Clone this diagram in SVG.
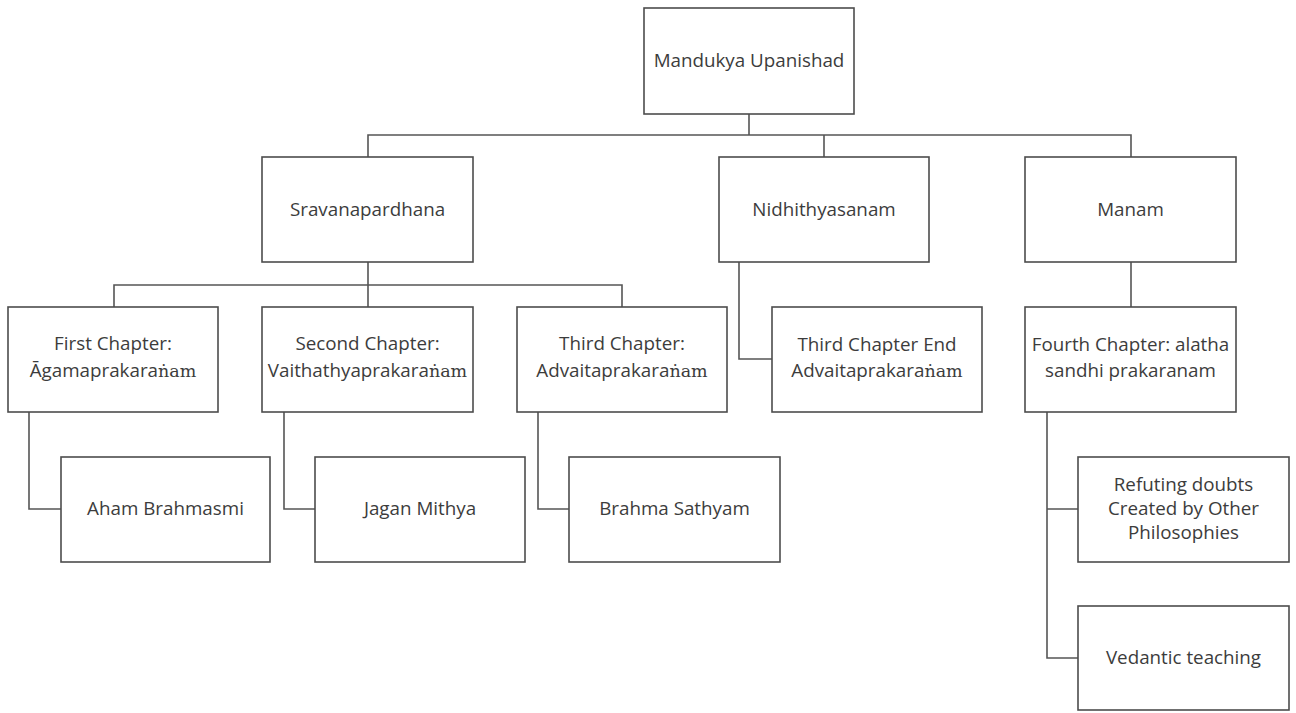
<svg xmlns="http://www.w3.org/2000/svg" width="1296" height="713" viewBox="0 0 1296 713">
<style>
.box{fill:#fff;stroke:#4d4d4d;stroke-width:1.6}
.c{fill:none;stroke:#555;stroke-width:1.6}
text{font-family:"Open Sans","Liberation Sans",sans-serif;font-size:18.8px;fill:#3c3c3c;text-anchor:middle}
.s{font-family:"DejaVu Serif","Liberation Serif",serif;font-size:17.5px}
</style>
<rect width="1296" height="713" fill="#fff"/>
<g id="connectors">
<path class="c" d="M749 114V135M368 157V135H1131V157M824 135V157"/>
<path class="c" d="M368 262V307M114 307V285H622V307"/>
<path class="c" d="M739 262V359H772"/>
<path class="c" d="M1131 262V307"/>
<path class="c" d="M29 412V509H61"/>
<path class="c" d="M284 412V509H315"/>
<path class="c" d="M538 412V509H569"/>
<path class="c" d="M1047 412V658H1078M1047 509H1078"/>
</g>
<g id="mandukya"><rect class="box" x="644" y="8" width="210" height="106"/><text x="749" y="67">Mandukya Upanishad</text></g>
<g id="sravana"><rect class="box" x="262" y="157" width="211" height="105"/><text x="367.5" y="216">Sravanapardhana</text></g>
<g id="nidhi"><rect class="box" x="719" y="157" width="210" height="105"/><text x="824" y="216">Nidhithyasanam</text></g>
<g id="manam"><rect class="box" x="1025" y="157" width="211" height="105"/><text x="1130.5" y="216">Manam</text></g>
<g id="first"><rect class="box" x="8" y="307" width="210" height="105"/><text x="113" y="350">First Chapter:</text><text x="113" y="377">Āgamaprakara<tspan class="s">ṅam</tspan></text></g>
<g id="second"><rect class="box" x="262" y="307" width="211" height="105"/><text x="367.5" y="350">Second Chapter:</text><text x="367.5" y="377">Vaithathyaprakara<tspan class="s">ṅam</tspan></text></g>
<g id="third"><rect class="box" x="517" y="307" width="210" height="105"/><text x="622" y="350">Third Chapter:</text><text x="622" y="377">Advaitaprakara<tspan class="s">ṅam</tspan></text></g>
<g id="thirdend"><rect class="box" x="772" y="307" width="210" height="105"/><text x="877" y="351">Third Chapter End</text><text x="877" y="377">Advaitaprakara<tspan class="s">ṅam</tspan></text></g>
<g id="fourth"><rect class="box" x="1025" y="307" width="211" height="105"/><text x="1130.5" y="351">Fourth Chapter: alatha</text><text x="1130.5" y="377">sandhi prakaranam</text></g>
<g id="aham"><rect class="box" x="61" y="457" width="209" height="105"/><text x="165.5" y="515">Aham Brahmasmi</text></g>
<g id="jagan"><rect class="box" x="315" y="457" width="210" height="105"/><text x="420" y="515">Jagan Mithya</text></g>
<g id="brahma"><rect class="box" x="569" y="457" width="211" height="105"/><text x="674.5" y="515">Brahma Sathyam</text></g>
<g id="refuting"><rect class="box" x="1078" y="457" width="211" height="105"/><text x="1183.5" y="491">Refuting doubts</text><text x="1183.5" y="515">Created by Other</text><text x="1183.5" y="539">Philosophies</text></g>
<g id="vedantic"><rect class="box" x="1078" y="606" width="211" height="104"/><text x="1183.5" y="664">Vedantic teaching</text></g>
</svg>
